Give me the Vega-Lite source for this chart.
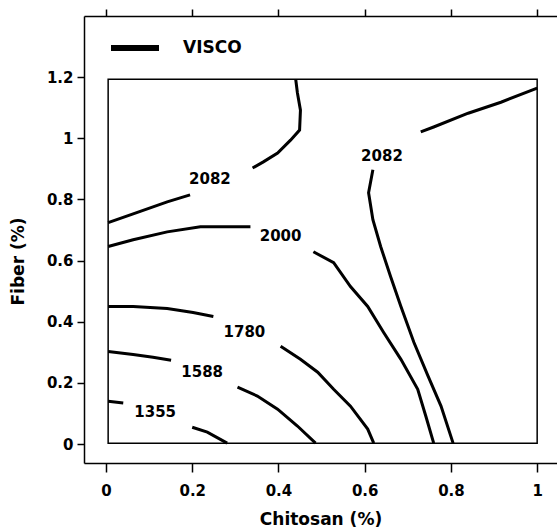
{
  "$schema": "https://vega.github.io/schema/vega-lite/v6.json",
  "width": 473,
  "height": 447,
  "autosize": {"type": "none"},
  "padding": {"left": 84, "top": 16, "right": 0, "bottom": 69},
  "background": "white",
  "config": {"view": {"stroke": null}, "font": "DejaVu Sans"},
  "datasets": {
    "contours": [
      {"seg": "2082a", "i": 0, "x": 0.005, "y": 0.724},
      {"seg": "2082a", "i": 1, "x": 0.063, "y": 0.753},
      {"seg": "2082a", "i": 2, "x": 0.142, "y": 0.792},
      {"seg": "2082a", "i": 3, "x": 0.195, "y": 0.815},
      {"seg": "2082b", "i": 0, "x": 0.340, "y": 0.903},
      {"seg": "2082b", "i": 1, "x": 0.365, "y": 0.923},
      {"seg": "2082b", "i": 2, "x": 0.398, "y": 0.952},
      {"seg": "2082b", "i": 3, "x": 0.428, "y": 0.994},
      {"seg": "2082b", "i": 4, "x": 0.449, "y": 1.027},
      {"seg": "2082b", "i": 5, "x": 0.451, "y": 1.092},
      {"seg": "2082b", "i": 6, "x": 0.444, "y": 1.148},
      {"seg": "2082b", "i": 7, "x": 0.440, "y": 1.193},
      {"seg": "2082c", "i": 0, "x": 0.730, "y": 1.021},
      {"seg": "2082c", "i": 1, "x": 0.760, "y": 1.037},
      {"seg": "2082c", "i": 2, "x": 0.840, "y": 1.082},
      {"seg": "2082c", "i": 3, "x": 0.916, "y": 1.118},
      {"seg": "2082c", "i": 4, "x": 1.000, "y": 1.164},
      {"seg": "2082d", "i": 0, "x": 0.619, "y": 0.897},
      {"seg": "2082d", "i": 1, "x": 0.609, "y": 0.822},
      {"seg": "2082d", "i": 2, "x": 0.619, "y": 0.734},
      {"seg": "2082d", "i": 3, "x": 0.637, "y": 0.646},
      {"seg": "2082d", "i": 4, "x": 0.660, "y": 0.548},
      {"seg": "2082d", "i": 5, "x": 0.684, "y": 0.450},
      {"seg": "2082d", "i": 6, "x": 0.714, "y": 0.333},
      {"seg": "2082d", "i": 7, "x": 0.747, "y": 0.222},
      {"seg": "2082d", "i": 8, "x": 0.777, "y": 0.124},
      {"seg": "2082d", "i": 9, "x": 0.805, "y": 0.003},
      {"seg": "2000a", "i": 0, "x": 0.005, "y": 0.646},
      {"seg": "2000a", "i": 1, "x": 0.063, "y": 0.668},
      {"seg": "2000a", "i": 2, "x": 0.142, "y": 0.694},
      {"seg": "2000a", "i": 3, "x": 0.219, "y": 0.711},
      {"seg": "2000a", "i": 4, "x": 0.335, "y": 0.711},
      {"seg": "2000b", "i": 0, "x": 0.481, "y": 0.629},
      {"seg": "2000b", "i": 1, "x": 0.528, "y": 0.593},
      {"seg": "2000b", "i": 2, "x": 0.567, "y": 0.515},
      {"seg": "2000b", "i": 3, "x": 0.607, "y": 0.450},
      {"seg": "2000b", "i": 4, "x": 0.644, "y": 0.365},
      {"seg": "2000b", "i": 5, "x": 0.684, "y": 0.277},
      {"seg": "2000b", "i": 6, "x": 0.723, "y": 0.179},
      {"seg": "2000b", "i": 7, "x": 0.742, "y": 0.090},
      {"seg": "2000b", "i": 8, "x": 0.760, "y": 0.003},
      {"seg": "1780a", "i": 0, "x": 0.005, "y": 0.450},
      {"seg": "1780a", "i": 1, "x": 0.063, "y": 0.450},
      {"seg": "1780a", "i": 2, "x": 0.142, "y": 0.443},
      {"seg": "1780a", "i": 3, "x": 0.202, "y": 0.430},
      {"seg": "1780a", "i": 4, "x": 0.249, "y": 0.417},
      {"seg": "1780b", "i": 0, "x": 0.405, "y": 0.320},
      {"seg": "1780b", "i": 1, "x": 0.451, "y": 0.277},
      {"seg": "1780b", "i": 2, "x": 0.491, "y": 0.235},
      {"seg": "1780b", "i": 3, "x": 0.528, "y": 0.179},
      {"seg": "1780b", "i": 4, "x": 0.567, "y": 0.124},
      {"seg": "1780b", "i": 5, "x": 0.607, "y": 0.049},
      {"seg": "1780b", "i": 6, "x": 0.621, "y": 0.003},
      {"seg": "1588a", "i": 0, "x": 0.005, "y": 0.303},
      {"seg": "1588a", "i": 1, "x": 0.063, "y": 0.293},
      {"seg": "1588a", "i": 2, "x": 0.109, "y": 0.284},
      {"seg": "1588a", "i": 3, "x": 0.151, "y": 0.274},
      {"seg": "1588b", "i": 0, "x": 0.305, "y": 0.186},
      {"seg": "1588b", "i": 1, "x": 0.351, "y": 0.157},
      {"seg": "1588b", "i": 2, "x": 0.398, "y": 0.114},
      {"seg": "1588b", "i": 3, "x": 0.444, "y": 0.059},
      {"seg": "1588b", "i": 4, "x": 0.486, "y": 0.003},
      {"seg": "1355a", "i": 0, "x": 0.005, "y": 0.140},
      {"seg": "1355a", "i": 1, "x": 0.040, "y": 0.134},
      {"seg": "1355b", "i": 0, "x": 0.200, "y": 0.055},
      {"seg": "1355b", "i": 1, "x": 0.235, "y": 0.039},
      {"seg": "1355b", "i": 2, "x": 0.281, "y": 0.003}
    ],
    "labels": [
      {"label": "2082", "x": 0.241, "y": 0.867},
      {"label": "2000", "x": 0.405, "y": 0.681},
      {"label": "2082", "x": 0.640, "y": 0.942},
      {"label": "1780", "x": 0.321, "y": 0.368},
      {"label": "1588", "x": 0.223, "y": 0.235},
      {"label": "1355", "x": 0.114, "y": 0.104}
    ],
    "box": [
      {"x": 0.005, "x2": 1.0, "y": 0.003, "y2": 1.193}
    ]
  },
  "resolve": {"axis": {"x": "independent", "y": "independent"}},
  "layer": [
    {
      "data": {"name": "contours"},
      "mark": {"type": "line", "strokeWidth": 3, "strokeCap": "butt"},
      "encoding": {
        "x": {
          "field": "x", "type": "quantitative",
          "scale": {"domain": [-0.051, 1.046], "nice": false, "zero": false},
          "axis": {
            "orient": "bottom", "values": [0, 0.2, 0.4, 0.6, 0.8, 1], "format": "~g",
            "grid": false, "domainColor": "black", "domainWidth": 1.5,
            "tickColor": "black", "tickWidth": 1.5, "tickSize": 9,
            "labelFont": "DejaVu Sans", "labelFontWeight": "bold", "labelFontSize": 15, "labelColor": "black",
            "labelPadding": 11,
            "title": "Chitosan (%)", "titleFont": "DejaVu Sans", "titleFontWeight": "bold",
            "titleFontSize": 17, "titleColor": "black", "titlePadding": 13
          }
        },
        "y": {
          "field": "y", "type": "quantitative",
          "scale": {"domain": [-0.062, 1.4], "nice": false, "zero": false},
          "axis": {
            "orient": "left", "values": [0, 0.2, 0.4, 0.6, 0.8, 1, 1.2], "format": "~g",
            "grid": false, "domainColor": "black", "domainWidth": 1.5,
            "tickColor": "black", "tickWidth": 1.5, "tickSize": 7,
            "labelFont": "DejaVu Sans", "labelFontWeight": "bold", "labelFontSize": 15, "labelColor": "black",
            "labelPadding": 4,
            "title": "Fiber (%)", "titleFont": "DejaVu Sans", "titleFontWeight": "bold",
            "titleFontSize": 17, "titleColor": "black",
            "titleX": -66, "titleY": 245, "titleAngle": -90, "titleAlign": "center", "titleBaseline": "middle"
          }
        },
        "detail": {"field": "seg"},
        "order": {"field": "i", "type": "quantitative"},
        "stroke": {
          "datum": "VISCO",
          "scale": {"range": ["black"]},
          "legend": {
            "orient": "none", "legendX": 24, "legendY": 5, "title": null,
            "symbolType": "stroke", "symbolSize": 2304, "symbolStrokeWidth": 6,
            "labelFont": "DejaVu Sans", "labelFontWeight": "bold", "labelFontSize": 17,
            "labelColor": "black", "labelOffset": 21, "padding": 0
          }
        }
      }
    },
    {
      "data": {"name": "box"},
      "mark": {"type": "rect", "filled": false, "color": "black", "strokeWidth": 1.5},
      "encoding": {
        "x": {
          "field": "x", "type": "quantitative",
          "axis": {
            "orient": "top", "values": [0, 0.2, 0.4, 0.6, 0.8, 1], "labels": false,
            "grid": false, "domainColor": "black", "domainWidth": 1.5,
            "tickColor": "black", "tickWidth": 1.5, "tickSize": 7, "title": null
          }
        },
        "x2": {"field": "x2"},
        "y": {"field": "y", "type": "quantitative", "axis": null},
        "y2": {"field": "y2"}
      }
    },
    {
      "data": {"name": "labels"},
      "mark": {"type": "text", "font": "DejaVu Sans", "fontWeight": "bold", "fontSize": 15, "color": "black"},
      "encoding": {
        "x": {"field": "x", "type": "quantitative", "axis": null},
        "y": {"field": "y", "type": "quantitative", "axis": null},
        "text": {"field": "label"}
      }
    }
  ]
}
